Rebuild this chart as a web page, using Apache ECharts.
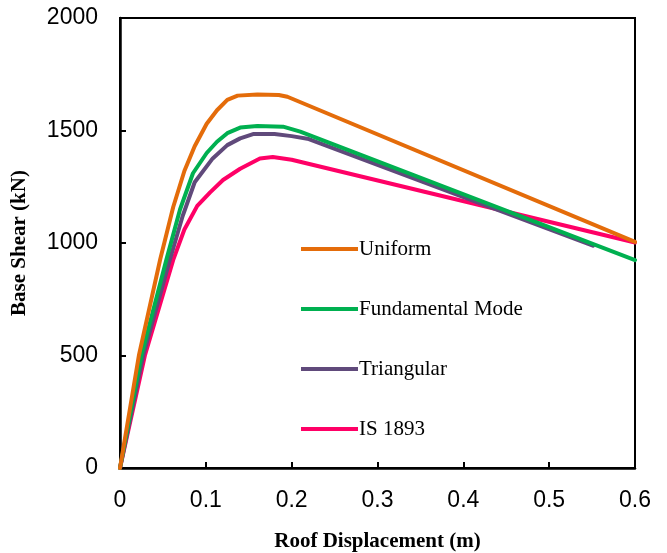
<!DOCTYPE html>
<html>
<head>
<meta charset="utf-8">
<script src="https://cdn.jsdelivr.net/npm/echarts@6/dist/echarts.min.js"></script>
<style>
html,body{margin:0;padding:0;background:#fff;}
#chart{width:667px;height:553px;}
</style>
</head>
<body>
<div id="chart"></div>
<script>
// Data
var seriesNames = ['Uniform', 'Fundamental Mode', 'Triangular', 'IS 1893'];

var uniformDisp  = [0, 0.022, 0.047, 0.062, 0.075, 0.087, 0.101, 0.113, 0.125, 0.137, 0.160, 0.185, 0.195, 0.600];
var uniformShear = [0, 500, 930, 1160, 1320, 1430, 1530, 1590, 1636, 1655, 1660, 1658, 1650, 1005];

var fundDisp  = [0, 0.025, 0.054, 0.070, 0.085, 0.101, 0.113, 0.125, 0.140, 0.160, 0.190, 0.210, 0.600];
var fundShear = [0, 500, 925, 1150, 1310, 1400, 1450, 1488, 1513, 1520, 1517, 1495, 924];

var triDisp  = [0, 0.027, 0.058, 0.073, 0.087, 0.108, 0.125, 0.140, 0.155, 0.180, 0.200, 0.220, 0.551];
var triShear = [0, 500, 925, 1120, 1270, 1376, 1435, 1465, 1484, 1484, 1475, 1462, 988];

var isDisp  = [0, 0.029, 0.062, 0.075, 0.090, 0.105, 0.120, 0.140, 0.163, 0.178, 0.200, 0.600];
var isShear = [0, 500, 925, 1060, 1165, 1225, 1280, 1330, 1376, 1382, 1370, 1002];

var xTicks = [0, 0.1, 0.2, 0.3, 0.4, 0.5, 0.6];
var yTicks = [0, 500, 1000, 1500, 2000];

var colors = ['#E46C0A', '#00B050', '#604A7B', '#FF0066'];

function pairs(xs, ys) {
  var out = [];
  for (var i = 0; i < xs.length; i++) out.push([xs[i], ys[i]]);
  return out;
}
var allData = [
  pairs(uniformDisp, uniformShear),
  pairs(fundDisp, fundShear),
  pairs(triDisp, triShear),
  pairs(isDisp, isShear)
];

var chart = echarts.init(document.getElementById('chart'), null, {renderer: 'canvas'});

var tickFont = {fontFamily: 'Liberation Sans, Arial, sans-serif', fontSize: 23, color: '#000'};
var serif = 'Liberation Serif, Times New Roman, serif';

var option = {
  animation: false,
  backgroundColor: '#fff',
  color: colors,
  grid: {
    left: 120, right: 32, top: 18, bottom: 85,
    outerBoundsMode: 'none',
    containLabel: false,
    show: true, borderColor: '#000', borderWidth: 2, backgroundColor: 'transparent'
  },
  legend: {
    data: seriesNames,
    orient: 'vertical',
    left: 296,
    top: 233,
    icon: 'rect',
    itemWidth: 57,
    itemHeight: 4,
    itemGap: 38,
    textStyle: {
      fontFamily: serif,
      fontSize: 21,
      color: '#000',
      lineHeight: 22,
      padding: [0, 0, 0, -4]
    }
  },
  xAxis: {
    type: 'value',
    min: xTicks[0],
    max: xTicks[xTicks.length - 1],
    interval: 0.1,
    name: 'Roof Displacement (m)',
    nameLocation: 'middle',
    nameGap: 63,
    nameTextStyle: {fontFamily: serif, fontWeight: 'bold', fontSize: 21, color: '#000'},
    axisLine: {show: true, lineStyle: {color: '#000', width: 2.5}},
    axisTick: {show: true, inside: true, length: 6, lineStyle: {color: '#000', width: 2}},
    axisLabel: Object.assign({margin: 21, formatter: function (v) { return String(v); }}, tickFont),
    splitLine: {show: false}
  },
  yAxis: {
    type: 'value',
    min: yTicks[0],
    max: yTicks[yTicks.length - 1],
    interval: 500,
    name: 'Base Shear (kN)',
    nameLocation: 'middle',
    nameGap: 90,
    nameTextStyle: {fontFamily: serif, fontWeight: 'bold', fontSize: 21, color: '#000'},
    axisLine: {show: true, lineStyle: {color: '#000', width: 2.5}},
    axisTick: {show: true, inside: true, length: 6, lineStyle: {color: '#000', width: 2}},
    axisLabel: Object.assign({margin: 22, formatter: function (v) { return String(v); }}, tickFont),
    splitLine: {show: false}
  },
  series: seriesNames.map(function (name, i) {
    return {
      name: name,
      type: 'line',
      data: allData[i],
      symbol: 'none',
      smooth: false,
      lineStyle: {color: colors[i], width: 4, cap: 'round', join: 'round'},
      itemStyle: {color: colors[i]},
      z: 10 - i
    };
  })
};
chart.setOption(option);
</script>
</body>
</html>
